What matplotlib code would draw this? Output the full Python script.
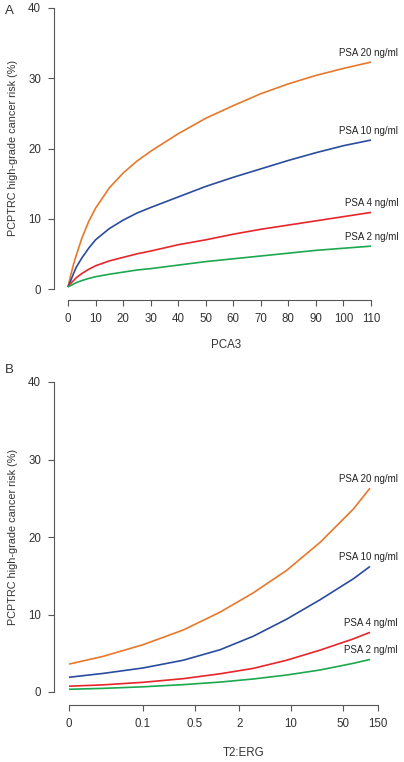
import matplotlib
matplotlib.use("Agg")
import matplotlib.pyplot as plt

plt.rcParams['font.family'] = ['Liberation Sans', 'DejaVu Sans']

# ---- Panel A data (PCA3 vs risk) ----
pca3 = [0, 1, 2, 3, 5, 7.5, 10, 15, 20, 25, 30, 40, 50, 60, 70, 80, 90, 100, 110]
a_psa20 = [0.3, 2.0, 3.5, 4.8, 7.2, 9.6, 11.5, 14.4, 16.5, 18.2, 19.6, 22.1, 24.3, 26.1, 27.8, 29.2, 30.4, 31.4, 32.3]
a_psa10 = [0.3, 1.2, 2.2, 3.1, 4.4, 5.8, 7.0, 8.6, 9.8, 10.8, 11.6, 13.1, 14.6, 15.9, 17.1, 18.3, 19.4, 20.4, 21.2]
a_psa4 = [0.3, 0.8, 1.2, 1.6, 2.2, 2.8, 3.3, 4.0, 4.5, 5.0, 5.4, 6.3, 7.0, 7.8, 8.5, 9.1, 9.7, 10.3, 10.9]
a_psa2 = [0.3, 0.5, 0.7, 0.9, 1.2, 1.5, 1.75, 2.1, 2.4, 2.7, 2.9, 3.4, 3.9, 4.3, 4.7, 5.1, 5.5, 5.8, 6.1]
pca3_ticks = [0, 10, 20, 30, 40, 50, 60, 70, 80, 90, 100, 110]

# ---- Panel B data (T2:ERG vs risk); 0 is drawn at 0.01 on the log axis ----
t2erg = [0.01, 0.029, 0.1, 0.35, 1.1, 3.1, 8.75, 24.7, 69.5, 117]
b_psa20 = [3.6, 4.6, 6.1, 8.0, 10.3, 12.8, 15.7, 19.3, 23.6, 26.3]
b_psa10 = [1.9, 2.4, 3.1, 4.1, 5.45, 7.2, 9.4, 11.9, 14.6, 16.2]
b_psa4 = [0.75, 0.92, 1.25, 1.72, 2.35, 3.05, 4.1, 5.4, 6.85, 7.7]
b_psa2 = [0.35, 0.47, 0.67, 0.95, 1.28, 1.68, 2.19, 2.84, 3.7, 4.2]
t2_ticks = [0.01, 0.1, 0.5, 2, 10, 50, 150]
t2_labels = ['0', '0.1', '0.5', '2', '10', '50', '150']

labels = ['PSA 20 ng/ml', 'PSA 10 ng/ml', 'PSA 4 ng/ml', 'PSA 2 ng/ml']
colors = ['#E8782A', '#2A4C9E', '#E8262A', '#1CA84E']
y_ticks = [0, 10, 20, 30, 40]

W, H = 404, 762
fig = plt.figure(figsize=(W / 100, H / 100), dpi=100)

def px_axes(left, top, right, bottom):
    return fig.add_axes([left / W, 1 - bottom / H, (right - left) / W, (bottom - top) / H])

axis_col = '#555555'
text_col = '#333333'

def style(ax, xbounds):
    for s in ['top', 'right']:
        ax.spines[s].set_visible(False)
    for s in ['left', 'bottom']:
        ax.spines[s].set_color(axis_col)
        ax.spines[s].set_linewidth(0.8)
    ax.spines['left'].set_bounds(0, 40)
    ax.spines['bottom'].set_bounds(*xbounds)
    ax.tick_params(direction='out', length=4.3, width=0.8, color=axis_col,
                   labelsize=8.3, labelcolor=text_col, pad=5)
    ax.set_yticks(y_ticks)
    ax.set_yticklabels([str(v) for v in y_ticks])

# Panel A
axA = px_axes(54, 0, 390, 300)
for ys, c in zip([a_psa20, a_psa10, a_psa4, a_psa2], colors):
    axA.plot(pca3, ys, color=c, lw=1.2, solid_capstyle='butt')
axA.set_xlim(-14 * 110 / 303, 110 + 19 * 110 / 303)
axA.set_ylim(-11 / 7.025, 40 + 8 / 7.025)
style(axA, (0, 110))
axA.set_xticks(pca3_ticks)
axA.set_xticklabels([str(v) for v in pca3_ticks])
for ys, lab, c in zip([a_psa20, a_psa10, a_psa4, a_psa2], labels, colors):
    axA.annotate(lab, xy=(pca3[-1], ys[-1]), xytext=(19.5, 6.5), textcoords='offset points',
                 ha='right', va='center', fontsize=7, color='#222222')

# Panel B
axB = px_axes(54, 378, 390, 705)
for ys, c in zip([b_psa20, b_psa10, b_psa4, b_psa2], colors):
    axB.plot(t2erg, ys, color=c, lw=1.2, solid_capstyle='butt')
axB.set_xscale('log')
dec = 309 / 4.176
axB.set_xlim(0.01 / 10 ** (15 / dec), 150 * 10 ** (12 / dec))
axB.set_ylim(-13 / 7.75, 40 + 4 / 7.75)
style(axB, (0.01, 150))
axB.set_xticks(t2_ticks)
axB.set_xticklabels(t2_labels)
axB.minorticks_off()
for ys, lab, c in zip([b_psa20, b_psa10, b_psa4, b_psa2], labels, colors):
    axB.annotate(lab, xy=(t2erg[-1], ys[-1]), xytext=(20, 6.5), textcoords='offset points',
                 ha='right', va='center', fontsize=7, color='#222222')

ylab = 'PCPTRC high-grade cancer risk (%)'
fig.text(13 / W, 1 - 148 / H, ylab, rotation=90, ha='center', va='center', fontsize=7.8, color=text_col)
fig.text(13 / W, 1 - 537 / H, ylab, rotation=90, ha='center', va='center', fontsize=7.8, color=text_col)
fig.text(226 / W, 1 - 345 / H, 'PCA3', ha='center', va='center', fontsize=8.3, color=text_col)
fig.text(244 / W, 1 - 753 / H, 'T2:ERG', ha='center', va='center', fontsize=8.3, color=text_col)
fig.text(9 / W, 1 - 11 / H, 'A', ha='center', va='center', fontsize=9.5, color=text_col)
fig.text(9 / W, 1 - 370 / H, 'B', ha='center', va='center', fontsize=9.5, color=text_col)

fig.savefig('out.png', dpi=100)
